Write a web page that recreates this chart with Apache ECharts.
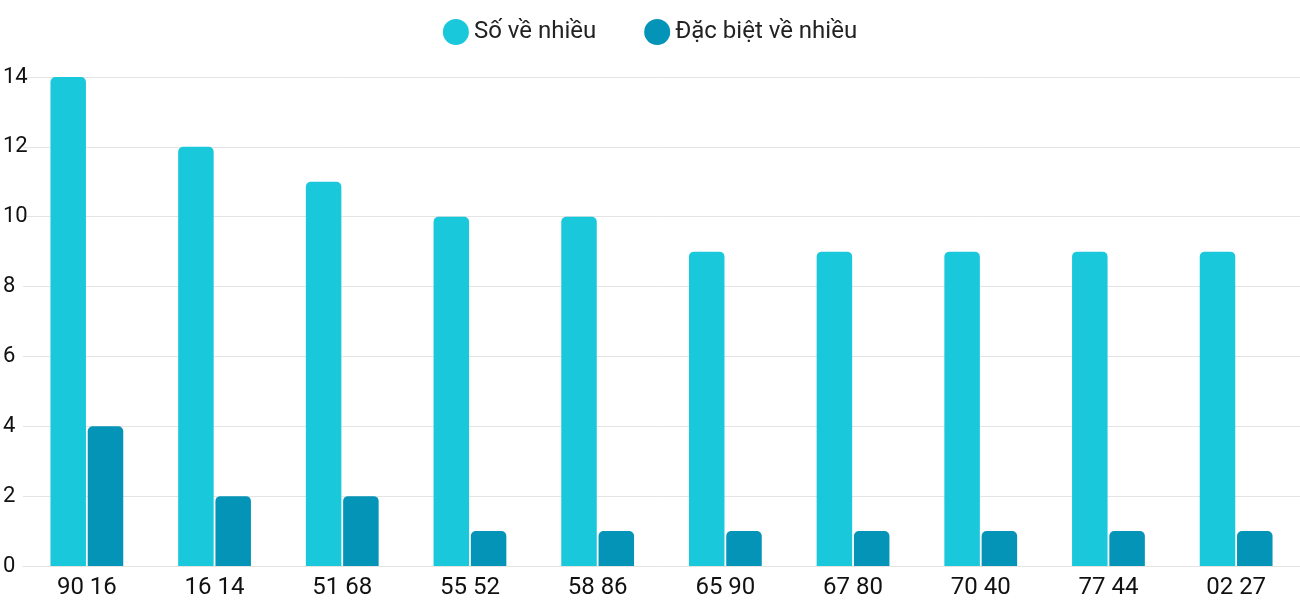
<!DOCTYPE html>
<html><head><meta charset="utf-8">
<script src="https://cdn.jsdelivr.net/npm/echarts@6/dist/echarts.min.js"></script>
<style>html,body{margin:0;padding:0;}#c{width:1300px;height:600px;}</style>
</head><body><div id="c"></div>
<script>
const categories = ["90 16","16 14","51 68","55 52","58 86","65 90","67 80","70 40","77 44","02 27"];
const soVeNhieu = [14,12,11,10,10,9,9,9,9,9];
const dacBietVeNhieu = [4,2,2,1,1,1,1,1,1,1];
const yTicks = [0,2,4,6,8,10,12,14];
const chart = echarts.init(document.getElementById('c'));
chart.setOption({
  animation:false,
  textStyle:{fontFamily:'Roboto'},
  legend:{top:14,left:'center',itemWidth:26,itemHeight:26,itemGap:48,icon:'circle',
    textStyle:{fontSize:24,color:'#222',fontFamily:'Roboto'}},
  grid:{left:20,right:-27,top:77,bottom:34},
  xAxis:{type:'category',data:categories,axisTick:{show:false},
    axisLine:{lineStyle:{color:'#e4e4e4'}},
    axisLabel:{fontSize:24,color:'#111',margin:10}},
  yAxis:{type:'value',min:0,max:14,interval:2,
    splitLine:{lineStyle:{color:'#e4e4e4'}},
    axisLabel:{fontSize:22,color:'#111',align:'left',margin:20,
      formatter:v=>yTicks.includes(v)?String(v):''}},
  series:[
    {name:'Số về nhiều',type:'bar',data:soVeNhieu,barGap:'5%',barCategoryGap:'43%',
     itemStyle:{color:'#1ac8db',borderRadius:[5,5,0,0]}},
    {name:'Đặc biệt về nhiều',type:'bar',data:dacBietVeNhieu,
     itemStyle:{color:'#0494b8',borderRadius:[5,5,0,0]}}
  ]
});
</script></body></html>
